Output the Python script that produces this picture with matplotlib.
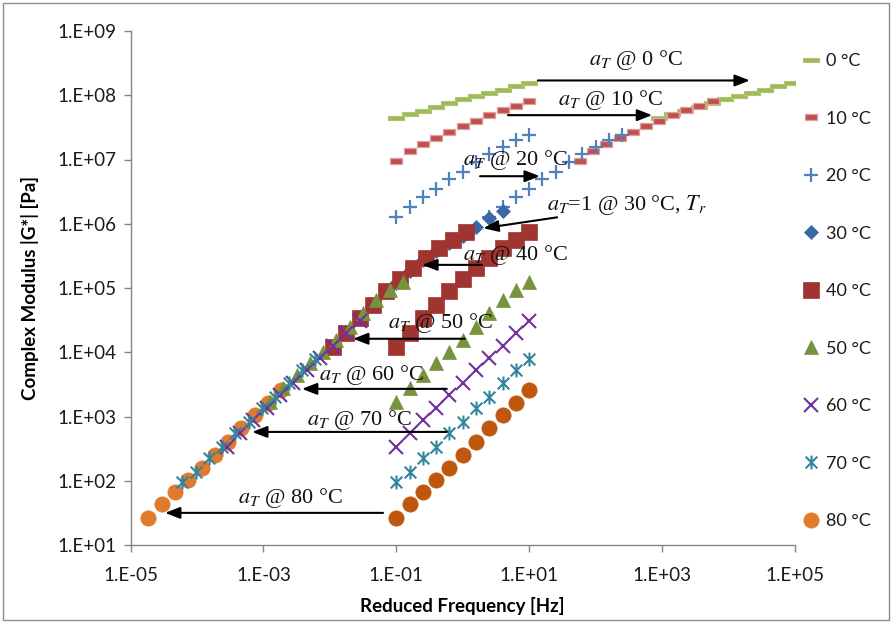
import numpy as np
import matplotlib
matplotlib.use("Agg")
import matplotlib.pyplot as plt
from matplotlib.path import Path
from matplotlib.lines import Line2D
from matplotlib.patches import Rectangle

# ---------------- data ----------------
temps = ["0 °C", "10 °C", "20 °C", "30 °C", "40 °C", "50 °C", "60 °C", "70 °C", "80 °C"]
freq_hz = [0.1, 0.158, 0.251, 0.398, 0.631, 1.0, 1.585, 2.512, 3.981, 6.31, 10.0]

g_0 = [4.43e7, 5.11e7, 5.69e7, 6.56e7, 7.57e7, 8.75e7, 9.73e7, 1.084e8, 1.208e8, 1.393e8, 1.552e8]
g_10 = [9.64e6, 1.355e7, 1.774e7, 2.198e7, 2.679e7, 3.319e7, 3.972e7, 4.932e7, 5.794e7, 6.918e7, 8.0e7]
g_20 = [1.274e6, 1.824e6, 2.606e6, 3.475e6, 4.977e6, 6.383e6, 9.141e6, 1.219e7, 1.567e7, 2.014e7, 2.404e7]
g_30 = [1.197e5, 1.841e5, 2.729e5, 3.767e5, 5.012e5, 6.442e5, 8.892e5, 1.227e6, 1.578e6]
g_40 = [1.208e4, 2.028e4, 3.412e4, 5.433e4, 8.831e4, 1.380e5, 2.084e5, 2.931e5, 4.198e5, 5.585e5, 7.311e5]
g_50 = [1.683e3, 2.780e3, 4.426e3, 6.808e3, 1.009e4, 1.552e4, 2.472e4, 4.083e4, 6.501e4, 9.311e4, 1.239e5]
g_60 = [335, 553, 883, 1355, 2163, 3319, 5297, 8147, 1.250e4, 1.995e4, 3.062e4]
g_70 = [95.7, 136.8, 226, 335, 553, 820, 1355, 2014, 3319, 5297, 7852]
g_80 = [26.3, 43.5, 66.8, 102.8, 157.8, 251.8, 400.9, 662.2, 1054, 1622, 2582]

# log10 of shift factor a_T (reference 30 °C)
log_aT = [3.95, 2.76, 1.40, 0.0, -0.95, -1.90, -2.55, -3.22, -3.73]

x_ticks = [1e-5, 1e-3, 1e-1, 1e1, 1e3, 1e5]
x_ticklabels = ["1.E-05", "1.E-03", "1.E-01", "1.E+01", "1.E+03", "1.E+05"]
y_ticks = [1e1, 1e2, 1e3, 1e4, 1e5, 1e6, 1e7, 1e8, 1e9]
y_ticklabels = ["1.E+01", "1.E+02", "1.E+03", "1.E+04", "1.E+05", "1.E+06", "1.E+07", "1.E+08", "1.E+09"]

series = [g_0, g_10, g_20, g_30, g_40, g_50, g_60, g_70, g_80]

# ---------------- styles ----------------
def rect_marker(h):
    return Path([(-0.5, -h), (0.5, -h), (0.5, h), (-0.5, h), (-0.5, -h)],
                [Path.MOVETO, Path.LINETO, Path.LINETO, Path.LINETO, Path.CLOSEPOLY])

star_marker = Path([(0, -0.5), (0, 0.5), (-0.42, -0.42), (0.42, 0.42), (-0.42, 0.42), (0.42, -0.42)],
                   [Path.MOVETO, Path.LINETO, Path.MOVETO, Path.LINETO, Path.MOVETO, Path.LINETO])

styles = [
    dict(marker=rect_marker(0.16), ms=11, mfc="#9BBB59", mec="#B3C46C", mew=0.8, color="#9BBB59"),
    dict(marker=rect_marker(0.3), ms=8, mfc="#C0504D", mec="#DDA09E", mew=0.9, color="#C0504D"),
    dict(marker="+", ms=10, mew=1.6, color="#4F81BD", mec="#4F81BD"),
    dict(marker="D", ms=7, mfc="#3A68A6", mec="#3A68A6", mew=0.5, color="#3A68A6"),
    dict(marker="s", ms=11.5, mfc="#A03431", mec="#A03431", mew=0.5, color="#A03431"),
    dict(marker="^", ms=10.5, mfc="#77933C", mec="#77933C", mew=0.5, color="#77933C"),
    dict(marker="x", ms=9.5, mew=1.5, color="#7030A0", mec="#7030A0"),
    dict(marker=star_marker, ms=10, mew=1.5, mfc="none", mec="#31859C", color="#31859C"),
    dict(marker="o", ms=11, mfc="#E07B2E", mec="#E07B2E", mew=0.5, color="#E07B2E"),
]
raw_80_color = "#C0570E"
zorders = [3, 4, 5, 6, 7, 8, 9, 10, 2]

plt.rcParams["font.family"] = ["Lato", "DejaVu Sans"]
plt.rcParams["mathtext.fontset"] = "stix"

fig = plt.figure(figsize=(8.93, 6.23), dpi=100)
ax = fig.add_axes([130.5 / 893, 78 / 623, 664.5 / 893, 514 / 623])

for i, (g, st) in enumerate(zip(series, styles)):
    n = len(g)
    f = np.array(freq_hz[:n])
    gv = np.array(g)
    kw = {k: v for k, v in st.items() if k != "color"}
    # shifted (master curve)
    ax.plot(f * 10 ** log_aT[i], gv, linestyle="none", zorder=zorders[i], **kw)
    # raw measured
    if log_aT[i] != 0.0:
        kw_raw = dict(kw)
        if i == 8:
            kw_raw["mfc"] = raw_80_color
            kw_raw["mec"] = raw_80_color
        ax.plot(f, gv, linestyle="none", zorder=zorders[i], **kw_raw)

ax.set_xscale("log")
ax.set_yscale("log")
ax.set_xlim(1e-5, 1e5)
ax.set_ylim(1e1, 1e9)
ax.set_xticks(x_ticks)
ax.set_xticklabels(x_ticklabels)
ax.set_yticks(y_ticks)
ax.set_yticklabels(y_ticklabels)
ax.minorticks_off()
for s in ["top", "right"]:
    ax.spines[s].set_visible(False)
for s in ["left", "bottom"]:
    ax.spines[s].set_color("#868686")
    ax.spines[s].set_linewidth(1.0)
ax.tick_params(axis="both", direction="out", length=5, width=1.0, color="#868686",
               labelsize=13.5, labelcolor="#1a1a1a")
ax.tick_params(axis="x", pad=11)
ax.tick_params(axis="y", pad=5)

ax.set_xlabel("Reduced Frequency [Hz]", fontsize=13.5, fontweight="bold", labelpad=9)
ax.set_ylabel("Complex Modulus |G*| [Pa]", fontsize=13.5, fontweight="bold", labelpad=13)

# ---------------- annotations ----------------
ann_font = dict(fontsize=16, family=["Liberation Serif", "DejaVu Serif"], ha="center", va="center", color="#111111")
arrow_kw = dict(arrowstyle="-|>,head_length=0.9,head_width=0.35", color="black", lw=1.5,
                shrinkA=0, shrinkB=0)

annotations = [
    (r"$a_T$ @ 0 °C", (2.61, 8.55), (1.13, 8.23), (4.32, 8.23)),
    (r"$a_T$ @ 10 °C", (2.22, 7.93), (0.68, 7.69), (2.85, 7.69)),
    (r"$a_T$ @ 20 °C", (0.79, 6.99), (0.26, 6.74), (1.16, 6.74)),
    (r"$a_T$=1 @ 30 °C, $T_r$", (2.47, 6.29), (1.42, 6.10), (0.31, 5.93)),
    (r"$a_T$ @ 40 °C", (0.79, 5.51), (0.29, 5.36), (-0.61, 5.36)),
    (r"$a_T$ @ 50 °C", (-0.34, 4.46), (0.03, 4.21), (-1.65, 4.21)),
    (r"$a_T$ @ 60 °C", (-1.38, 3.65), (-0.24, 3.43), (-2.42, 3.43)),
    (r"$a_T$ @ 70 °C", (-1.56, 2.95), (-0.24, 2.76), (-3.17, 2.76)),
    (r"$a_T$ @ 80 °C", (-2.60, 1.73), (-1.20, 1.50), (-4.48, 1.50)),
]
for text, tpos, tail, head in annotations:
    ax.annotate("", xy=(10 ** head[0], 10 ** head[1]), xytext=(10 ** tail[0], 10 ** tail[1]),
                arrowprops=arrow_kw, zorder=20)
    ax.text(10 ** tpos[0], 10 ** tpos[1], text, zorder=21, **ann_font)

# ---------------- legend ----------------
handles = []
for i, st in enumerate(styles):
    kw = {k: v for k, v in st.items() if k != "color"}
    handles.append(Line2D([], [], linestyle="none", **kw))
leg = fig.legend(handles, temps, loc="upper left", bbox_to_anchor=(802 / 893, 1 - 53 / 623),
                 frameon=False, fontsize=13, handletextpad=0.35, labelspacing=2.3,
                 handlelength=1.0, borderaxespad=0, borderpad=0)
for t in leg.get_texts():
    t.set_color("#1a1a1a")

# chart area border
fig.patches.append(Rectangle((3 / 893, 3 / 623), 886 / 893, 617 / 623, transform=fig.transFigure,
                             fill=False, edgecolor="#8c8c8c", linewidth=1.0))

fig.savefig("out.png", dpi=100)
